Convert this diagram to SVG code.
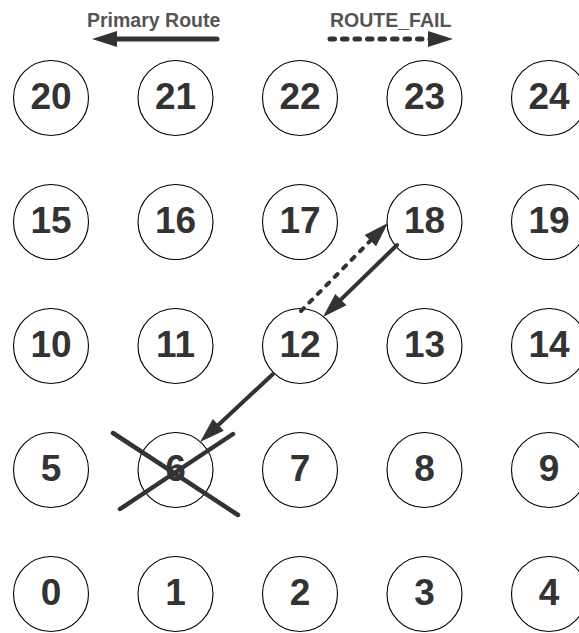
<svg xmlns="http://www.w3.org/2000/svg" width="579" height="633" viewBox="0 0 579 633">
<style>
.node circle{fill:#fff;stroke:#000;stroke-width:1.1}
.node text{font-family:"Liberation Sans",Arial,sans-serif;font-weight:bold;font-size:37px;fill:#333;text-anchor:middle}
.legend{font-family:"Liberation Sans",Arial,sans-serif;font-weight:bold;font-size:19.5px;fill:#555}
.route{stroke:#333;stroke-width:4;fill:none;stroke-linecap:round}
.fail{stroke:#333;stroke-width:4;fill:none;stroke-linecap:round;stroke-dasharray:4 8}
.lg{stroke-width:5}
.lgf{stroke-width:5;stroke-dasharray:4.5 8}
.cross{stroke:#333;stroke-width:4.5;stroke-linecap:round}
</style>
<defs>
<marker id="ah" markerUnits="userSpaceOnUse" markerWidth="25" markerHeight="16" refX="4" refY="8" orient="auto" overflow="visible">
<path d="M0,0 L25,8 L0,16 z" fill="#333"/>
</marker>
</defs>
<g id="legend">
<text class="legend" x="87" y="27">Primary Route</text>
<line class="route lg" x1="217" y1="39" x2="113" y2="39" marker-end="url(#ah)"/>
<text class="legend" x="330" y="27">ROUTE_FAIL</text>
<line class="fail lgf" x1="330" y1="39" x2="432" y2="39" marker-end="url(#ah)"/>
</g>
<g id="n20" class="node"><circle cx="51" cy="98" r="37.5"/><text x="51" y="109">20</text></g>
<g id="n21" class="node"><circle cx="175.5" cy="98" r="37.5"/><text x="175.5" y="109">21</text></g>
<g id="n22" class="node"><circle cx="300" cy="98" r="37.5"/><text x="300" y="109">22</text></g>
<g id="n23" class="node"><circle cx="424.5" cy="98" r="37.5"/><text x="424.5" y="109">23</text></g>
<g id="n24" class="node"><circle cx="549" cy="98" r="37.5"/><text x="549" y="109">24</text></g>
<g id="n15" class="node"><circle cx="51" cy="222" r="37.5"/><text x="51" y="233">15</text></g>
<g id="n16" class="node"><circle cx="175.5" cy="222" r="37.5"/><text x="175.5" y="233">16</text></g>
<g id="n17" class="node"><circle cx="300" cy="222" r="37.5"/><text x="300" y="233">17</text></g>
<g id="n18" class="node"><circle cx="424.5" cy="222" r="37.5"/><text x="424.5" y="233">18</text></g>
<g id="n19" class="node"><circle cx="549" cy="222" r="37.5"/><text x="549" y="233">19</text></g>
<g id="n10" class="node"><circle cx="51" cy="346" r="37.5"/><text x="51" y="357">10</text></g>
<g id="n11" class="node"><circle cx="175.5" cy="346" r="37.5"/><text x="175.5" y="357">11</text></g>
<g id="n12" class="node"><circle cx="300" cy="346" r="37.5"/><text x="300" y="357">12</text></g>
<g id="n13" class="node"><circle cx="424.5" cy="346" r="37.5"/><text x="424.5" y="357">13</text></g>
<g id="n14" class="node"><circle cx="549" cy="346" r="37.5"/><text x="549" y="357">14</text></g>
<g id="n5" class="node"><circle cx="51" cy="470" r="37.5"/><text x="51" y="481">5</text></g>
<g id="n6" class="node"><circle cx="175.5" cy="470" r="37.5"/><text x="175.5" y="481">6</text></g>
<g id="n7" class="node"><circle cx="300" cy="470" r="37.5"/><text x="300" y="481">7</text></g>
<g id="n8" class="node"><circle cx="424.5" cy="470" r="37.5"/><text x="424.5" y="481">8</text></g>
<g id="n9" class="node"><circle cx="549" cy="470" r="37.5"/><text x="549" y="481">9</text></g>
<g id="n0" class="node"><circle cx="51" cy="594" r="37.5"/><text x="51" y="605">0</text></g>
<g id="n1" class="node"><circle cx="175.5" cy="594" r="37.5"/><text x="175.5" y="605">1</text></g>
<g id="n2" class="node"><circle cx="300" cy="594" r="37.5"/><text x="300" y="605">2</text></g>
<g id="n3" class="node"><circle cx="424.5" cy="594" r="37.5"/><text x="424.5" y="605">3</text></g>
<g id="n4" class="node"><circle cx="549" cy="594" r="37.5"/><text x="549" y="605">4</text></g>
<g id="connectors">
<line class="fail" x1="301" y1="311" x2="373.2" y2="237.9" marker-end="url(#ah)"/>
<line class="route" x1="397" y1="245" x2="338" y2="302.4" marker-end="url(#ah)"/>
<line class="route" x1="273" y1="374" x2="215.4" y2="427.7" marker-end="url(#ah)"/>
</g>
<g id="failed-mark">
<line class="cross" x1="113" y1="433" x2="238" y2="515"/>
<line class="cross" x1="120" y1="509" x2="233" y2="434"/>
</g>
</svg>
